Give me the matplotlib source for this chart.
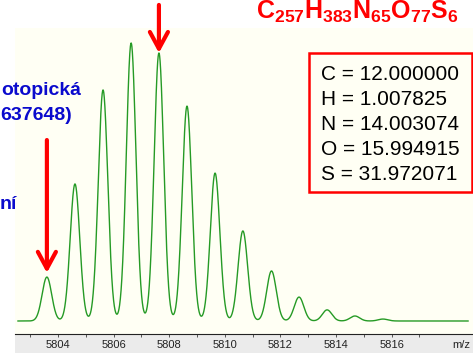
import numpy as np
import matplotlib.pyplot as plt
from matplotlib.patches import Rectangle

# 1. Data (isotope peaks: m/z and relative height)
peak_mz = [5803.60, 5804.61, 5805.62, 5806.63, 5807.63, 5808.64, 5809.65,
           5810.65, 5811.68, 5812.67, 5813.68, 5814.68, 5815.69]
peak_height = [15.8, 49.3, 83.1, 100.0, 96.4, 77.3, 53.2,
               32.4, 18.0, 8.6, 4.0, 1.8, 0.7]
peak_sigma = 0.172

tick_values = [5804, 5806, 5808, 5810, 5812, 5814, 5816]
tick_labels = ["5804", "5806", "5808", "5810", "5812", "5814", "5816"]

elements = ["C", "H", "N", "O", "S"]
masses = ["12.000000", "1.007825", "14.003074", "15.994915", "31.972071"]

formula = r"$\mathbf{C_{257}H_{383}N_{65}O_{77}S_{6}}$"

# 2. Profile curve built from the peaks
mz = np.linspace(5802.56, 5818.75, 3000)
intensity = np.zeros_like(mz)
for m, h in zip(peak_mz, peak_height):
    intensity += h * np.exp(-(mz - m) ** 2 / (2 * peak_sigma ** 2))

plt.rcParams["font.family"] = ["Liberation Sans", "DejaVu Sans"]
plt.rcParams["mathtext.fontset"] = "custom"
plt.rcParams["mathtext.bf"] = "Liberation Sans:bold"
plt.rcParams["mathtext.rm"] = "Liberation Sans"

W, H = 473, 356
fig = plt.figure(figsize=(W / 100, H / 100), dpi=100)
fig.patch.set_facecolor("white")


def px(x, y):
    # pixel position -> figure fraction
    return x / W, 1 - y / H


# gray strip under the axis
fig.patches.append(Rectangle(px(15, 353), (W - 15) / W, 19 / H,
                             transform=fig.transFigure, facecolor="#ebebeb",
                             edgecolor="none", zorder=-1))

ax = fig.add_axes([15 / W, 22 / H, 1 - 15 / W, 306 / H])
ax.set_facecolor("#fffff4")
ax.plot(mz, intensity, color="#259a25", lw=1.0)

ax.set_xlim(5802.453, 5818.928)
ax.set_ylim(-4.68, 105.4)

for s in ["left", "right", "top"]:
    ax.spines[s].set_visible(False)
ax.spines["bottom"].set_color("#222222")
ax.spines["bottom"].set_linewidth(0.8)

ax.set_yticks([])
ax.set_xticks(tick_values)
ax.set_xticklabels(tick_labels)
ax.set_xticks(np.arange(5803, 5819, 2), minor=True)
ax.tick_params(axis="x", which="both", direction="out", length=2.2,
               width=0.7, color="#555555", labelsize=8, labelcolor="#222222", pad=2)
ax.text(5818.5, -0.036, "m/z", transform=ax.get_xaxis_transform(),
        ha="center", va="center", fontsize=8, color="#222222")

# 3. Red arrows
arrow = dict(arrowstyle="->,head_length=1.2,head_width=0.65", lw=3,
             color="#ff0000", shrinkA=0, shrinkB=0, mutation_scale=10)
ax.annotate("", xy=(peak_mz[4], peak_height[4]), xytext=(peak_mz[4], 113.7),
            arrowprops=arrow, annotation_clip=False)
ax.annotate("", xy=(peak_mz[0], 17.3), xytext=(peak_mz[0], 65.1),
            arrowprops=arrow, annotation_clip=False)

# 4. Texts
fig.text(*px(357, 19), formula, color="#ff0000", fontsize=18,
         ha="center", va="baseline")

blue = "#0a0acd"
fig.text(*px(81, 95), "otopická", color=blue, fontsize=14, fontweight="bold",
         ha="right", va="baseline")
fig.text(*px(72, 120), "637648)", color=blue, fontsize=14, fontweight="bold",
         ha="right", va="baseline")
fig.text(*px(17, 209), "ní", color=blue, fontsize=14, fontweight="bold",
         ha="right", va="baseline")

fig.patches.append(Rectangle(px(309, 192), 163 / W, 139 / H,
                             transform=fig.transFigure, facecolor="#fffff4",
                             edgecolor="#ff0000", lw=1.8, zorder=3))
for i, (el, m) in enumerate(zip(elements, masses)):
    fig.text(*px(321, 80 + 25 * i), f"{el} = {m}", color="black",
             fontsize=15, ha="left", va="baseline", zorder=4)

fig.savefig("out.png", dpi=100)
